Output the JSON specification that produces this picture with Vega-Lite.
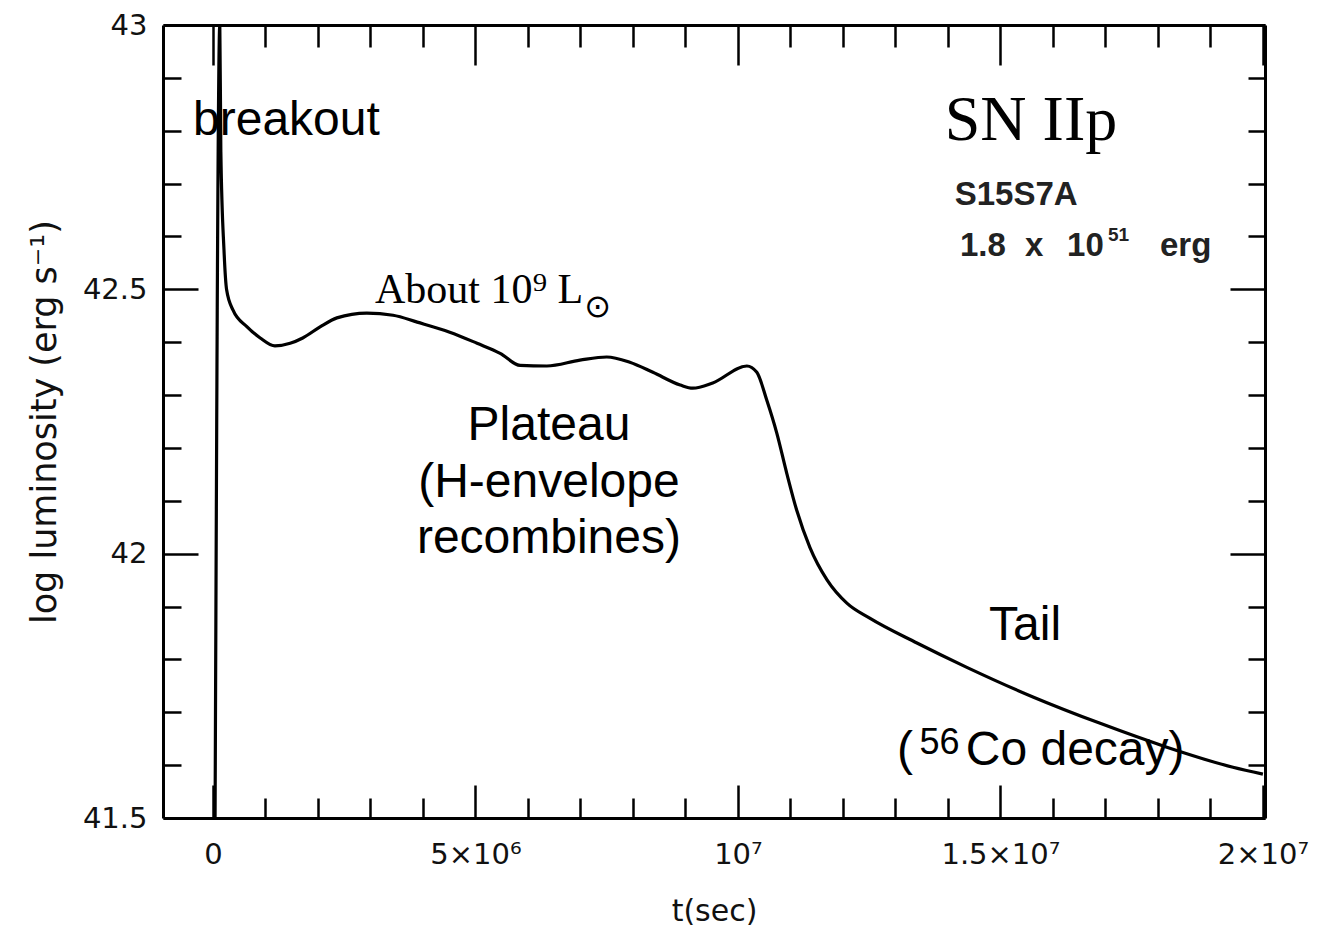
{
  "$schema": "https://vega.github.io/schema/vega-lite/v6.json",
  "width": 1102,
  "height": 793,
  "autosize": "none",
  "padding": {"left": 163, "top": 25, "right": 67, "bottom": 115},
  "background": "white",
  "config": {"view": {"stroke": null}},
  "datasets": {
    "curve": [
      {"t": 40000, "L": 41.5},
      {"t": 130000, "L": 43.0},
      {"t": 150000, "L": 42.76},
      {"t": 210000, "L": 42.574},
      {"t": 260000, "L": 42.499},
      {"t": 380000, "L": 42.461},
      {"t": 650000, "L": 42.429},
      {"t": 900000, "L": 42.408},
      {"t": 1180000, "L": 42.393},
      {"t": 1470000, "L": 42.398},
      {"t": 1710000, "L": 42.408},
      {"t": 2040000, "L": 42.429},
      {"t": 2360000, "L": 42.446},
      {"t": 2930000, "L": 42.455},
      {"t": 3430000, "L": 42.451},
      {"t": 3890000, "L": 42.438},
      {"t": 4510000, "L": 42.419},
      {"t": 5030000, "L": 42.398},
      {"t": 5470000, "L": 42.379},
      {"t": 5850000, "L": 42.356},
      {"t": 6360000, "L": 42.355},
      {"t": 6990000, "L": 42.366},
      {"t": 7500000, "L": 42.372},
      {"t": 7940000, "L": 42.362},
      {"t": 8380000, "L": 42.343},
      {"t": 8900000, "L": 42.319},
      {"t": 9140000, "L": 42.313},
      {"t": 9520000, "L": 42.323},
      {"t": 10170000, "L": 42.355},
      {"t": 10360000, "L": 42.343},
      {"t": 10550000, "L": 42.29},
      {"t": 10740000, "L": 42.228},
      {"t": 10930000, "L": 42.152},
      {"t": 11120000, "L": 42.082},
      {"t": 11370000, "L": 42.012},
      {"t": 11700000, "L": 41.95},
      {"t": 12080000, "L": 41.906},
      {"t": 12510000, "L": 41.878},
      {"t": 13410000, "L": 41.831},
      {"t": 14360000, "L": 41.785},
      {"t": 15620000, "L": 41.729},
      {"t": 16900000, "L": 41.679},
      {"t": 18170000, "L": 41.634},
      {"t": 19430000, "L": 41.596},
      {"t": 20000000, "L": 41.583}
    ],
    "sansLeft": [
      {"t": -380000, "L": 42.792, "label": "breakout"},
      {"t": 13030000, "L": 41.6, "label": "("},
      {"t": 14340000, "L": 41.6, "label": "Co decay)"}
    ],
    "sansSup": [
      {"t": 13460000, "L": 41.621, "label": "56"}
    ],
    "sansCenter": [
      {"t": 6400000, "L": 42.215, "label": "Plateau"},
      {"t": 6400000, "L": 42.107, "label": "(H-envelope"},
      {"t": 6400000, "L": 42.001, "label": "recombines)"},
      {"t": 15470000, "L": 41.836, "label": "Tail"}
    ],
    "serifBig": [
      {"t": 13940000, "L": 42.782, "label": "SN IIp"}
    ],
    "serifMid": [
      {"t": 3086000, "L": 42.474, "label": "About 10⁹ L"}
    ],
    "sun": [
      {"t": 7330000, "L": 42.466, "label": "⊙"}
    ],
    "model": [
      {"t": 14130000, "L": 42.659, "label": "S15S7A"},
      {"t": 14230000, "L": 42.563, "label": "1.8"},
      {"t": 15470000, "L": 42.563, "label": "x"},
      {"t": 16270000, "L": 42.563, "label": "10"},
      {"t": 18040000, "L": 42.563, "label": "erg"}
    ],
    "modelSup": [
      {"t": 17050000, "L": 42.591, "label": "51"}
    ]
  },
  "resolve": {"axis": {"x": "independent", "y": "independent"}},
  "layer": [
    {
      "data": {"name": "curve"},
      "mark": {"type": "line", "color": "black", "strokeWidth": 3.2, "clip": true, "interpolate": "monotone"},
      "encoding": {
        "x": {
          "field": "t", "type": "quantitative",
          "scale": {"domain": [-952000, 20040000], "nice": false, "zero": false},
          "axis": {
            "orient": "bottom",
            "values": [0,1000000,2000000,3000000,4000000,5000000,6000000,7000000,8000000,9000000,10000000,11000000,12000000,13000000,14000000,15000000,16000000,17000000,18000000,19000000,20000000],
            "labelExpr": "datum.value == 0 ? '0' : datum.value == 5000000 ? '5×10⁶' : datum.value == 10000000 ? '10⁷' : datum.value == 15000000 ? '1.5×10⁷' : datum.value == 20000000 ? '2×10⁷' : ''",
            "tickSize": {"condition": {"test": "datum.value % 5000000 == 0", "value": -33}, "value": -20},
            "tickWidth": 2.5, "tickColor": "black",
            "domainColor": "black", "domainWidth": 3,
            "grid": false,
            "labelFont": "DejaVu Sans", "labelFontSize": 29, "labelColor": "#111",
            "labelPadding": 55, "labelFlush": false, "labelOverlap": false,
            "title": "t(sec)", "titleFont": "DejaVu Sans", "titleFontSize": 30, "titleFontWeight": "normal", "titleColor": "#111",
            "titlePadding": 14
          }
        },
        "y": {
          "field": "L", "type": "quantitative",
          "scale": {"domain": [41.5, 43], "nice": false, "zero": false},
          "axis": {
            "orient": "left",
            "values": [41.5,41.6,41.7,41.8,41.9,42.0,42.1,42.2,42.3,42.4,42.5,42.6,42.7,42.8,42.9,43.0],
            "labelExpr": "abs(datum.value - 43) < 0.001 ? '43' : abs(datum.value - 42.5) < 0.001 ? '42.5' : abs(datum.value - 42) < 0.001 ? '42' : abs(datum.value - 41.5) < 0.001 ? '41.5' : ''",
            "tickSize": {"condition": {"test": "abs(datum.value*2 - round(datum.value*2)) < 0.001", "value": -35}, "value": -18},
            "tickWidth": 2.5, "tickColor": "black",
            "domainColor": "black", "domainWidth": 3,
            "grid": false,
            "labelFont": "DejaVu Sans", "labelFontSize": 29, "labelColor": "#111",
            "labelPadding": 51, "labelFlush": false, "labelOverlap": false,
            "title": "log luminosity (erg s⁻¹)", "titleFont": "DejaVu Sans", "titleFontSize": 35, "titleFontWeight": "normal", "titleColor": "#111",
            "titlePadding": 20
          }
        }
      }
    },
    {
      "data": {"name": "curve"},
      "mark": {"type": "line", "strokeOpacity": 0},
      "encoding": {
        "x": {
          "field": "t", "type": "quantitative",
          "axis": {
            "orient": "top",
            "values": [0,1000000,2000000,3000000,4000000,5000000,6000000,7000000,8000000,9000000,10000000,11000000,12000000,13000000,14000000,15000000,16000000,17000000,18000000,19000000,20000000],
            "labels": false,
            "tickSize": {"condition": {"test": "datum.value % 5000000 == 0", "value": -40}, "value": -22},
            "tickWidth": 2.5, "tickColor": "black",
            "domainColor": "black", "domainWidth": 3,
            "grid": false, "title": null
          }
        },
        "y": {
          "field": "L", "type": "quantitative",
          "axis": {
            "orient": "right",
            "values": [41.5,41.6,41.7,41.8,41.9,42.0,42.1,42.2,42.3,42.4,42.5,42.6,42.7,42.8,42.9,43.0],
            "labels": false,
            "tickSize": {"condition": {"test": "abs(datum.value*2 - round(datum.value*2)) < 0.001", "value": -35}, "value": -17},
            "tickWidth": 2.5, "tickColor": "black",
            "domainColor": "black", "domainWidth": 3,
            "grid": false, "title": null
          }
        }
      }
    },
    {
      "data": {"name": "sansLeft"},
      "mark": {"type": "text", "font": "Liberation Sans", "fontSize": 48, "align": "left", "baseline": "alphabetic", "color": "black"},
      "encoding": {
        "x": {"field": "t", "type": "quantitative", "axis": null},
        "y": {"field": "L", "type": "quantitative", "axis": null},
        "text": {"field": "label"}
      }
    },
    {
      "data": {"name": "sansSup"},
      "mark": {"type": "text", "font": "Liberation Sans", "fontSize": 36, "align": "left", "baseline": "alphabetic", "color": "black"},
      "encoding": {
        "x": {"field": "t", "type": "quantitative", "axis": null},
        "y": {"field": "L", "type": "quantitative", "axis": null},
        "text": {"field": "label"}
      }
    },
    {
      "data": {"name": "sansCenter"},
      "mark": {"type": "text", "font": "Liberation Sans", "fontSize": 48, "align": "center", "baseline": "alphabetic", "color": "black"},
      "encoding": {
        "x": {"field": "t", "type": "quantitative", "axis": null},
        "y": {"field": "L", "type": "quantitative", "axis": null},
        "text": {"field": "label"}
      }
    },
    {
      "data": {"name": "serifBig"},
      "mark": {"type": "text", "font": "Liberation Serif", "fontSize": 64, "align": "left", "baseline": "alphabetic", "color": "black"},
      "encoding": {
        "x": {"field": "t", "type": "quantitative", "axis": null},
        "y": {"field": "L", "type": "quantitative", "axis": null},
        "text": {"field": "label"}
      }
    },
    {
      "data": {"name": "serifMid"},
      "mark": {"type": "text", "font": "Liberation Serif", "fontSize": 42, "align": "left", "baseline": "alphabetic", "color": "black"},
      "encoding": {
        "x": {"field": "t", "type": "quantitative", "axis": null},
        "y": {"field": "L", "type": "quantitative", "axis": null},
        "text": {"field": "label"}
      }
    },
    {
      "data": {"name": "sun"},
      "mark": {"type": "text", "font": "DejaVu Sans", "fontSize": 32, "align": "center", "baseline": "middle", "color": "black"},
      "encoding": {
        "x": {"field": "t", "type": "quantitative", "axis": null},
        "y": {"field": "L", "type": "quantitative", "axis": null},
        "text": {"field": "label"}
      }
    },
    {
      "data": {"name": "model"},
      "mark": {"type": "text", "font": "Liberation Sans", "fontSize": 33, "fontWeight": "bold", "align": "left", "baseline": "alphabetic", "color": "#222"},
      "encoding": {
        "x": {"field": "t", "type": "quantitative", "axis": null},
        "y": {"field": "L", "type": "quantitative", "axis": null},
        "text": {"field": "label"}
      }
    },
    {
      "data": {"name": "modelSup"},
      "mark": {"type": "text", "font": "Liberation Sans", "fontSize": 19, "fontWeight": "bold", "align": "left", "baseline": "alphabetic", "color": "#222"},
      "encoding": {
        "x": {"field": "t", "type": "quantitative", "axis": null},
        "y": {"field": "L", "type": "quantitative", "axis": null},
        "text": {"field": "label"}
      }
    }
  ]
}
